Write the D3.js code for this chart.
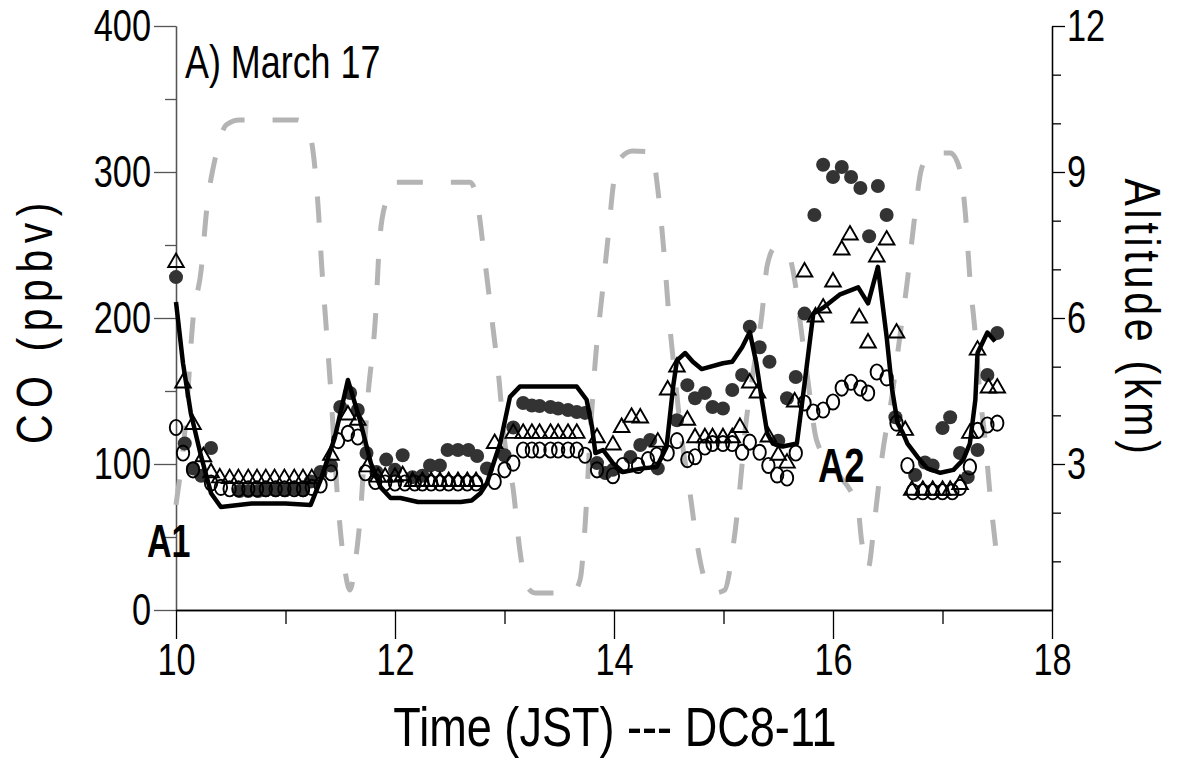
<!DOCTYPE html>
<html>
<head>
<meta charset="utf-8">
<script src="https://cdn.jsdelivr.net/npm/d3@7/dist/d3.min.js"></script>
<style>
  html, body { margin: 0; padding: 0; background: #fff; }
  svg text { font-family: "Liberation Sans", Arial, sans-serif; fill: #000; }
</style>
</head>
<body>
<svg id="chart" width="1177" height="773"></svg>
<script>
// ---- Flight DC8-11, March 17: CO mixing ratios and flight altitude ----

// time in hours JST, CO in ppbv (filled dots)
const coFilled = [
  [10.0,228],[10.08,114],[10.155,97],[10.23,92],[10.32,111],
  [10.58,81.5],[10.66,81.5],[10.75,81.5],[10.82,82],[10.91,82],[11.0,82],[11.09,83],[11.16,82],
  [11.23,88],[11.32,94.5],[11.415,99],[11.50,139],[11.59,148.6],[11.66,137],[11.74,107.5],
  [11.83,94.5],[11.92,103],[12.0,96],[12.07,106],[12.16,91],[12.25,92],[12.32,99],[12.41,99],
  [12.48,109.6],[12.575,109.6],[12.67,109.6],[12.75,105.5],[12.84,97],[13.0,106],[13.08,125],
  [13.17,141.8],[13.25,140],[13.32,139.7],[13.42,139],[13.49,138],[13.58,137],[13.66,135.6],[13.735,135],
  [13.845,100.6],[13.92,93.8],[13.99,96],[14.15,104.8],[14.24,113],[14.33,116.4],[14.40,97],
  [14.575,130],[14.67,154],[14.74,145],[14.83,148.6],[14.90,139],[14.995,138],[15.08,150.7],
  [15.17,161],[15.24,194],[15.33,180],[15.42,170],[15.50,116],[15.58,145],[15.66,159.6],
  [15.74,203],[15.83,270.5],[15.91,305],[16.0,296.6],[16.08,303.4],[16.165,296.6],[16.25,289],
  [16.33,256],[16.41,290.4],[16.49,270.5],[16.57,132],[16.75,92.5],[16.84,101],[16.91,99],
  [17.0,124.6],[17.07,132],[17.16,107.5],[17.23,91],[17.32,109.6],[17.41,161],[17.50,189.7]
];

// open triangles
const coTriangles = [
  [10.0,238],[10.064,155.5],[10.155,127],[10.25,105],[10.32,94],[10.40,90.5],
  [10.49,90],[10.57,90],[10.66,90],[10.74,90],[10.82,90],[10.90,90],[10.99,90],[11.08,90],[11.16,90],[11.24,90],
  [11.415,106],[11.57,133.6],[11.66,130],[11.75,98],[11.845,91],[11.91,91],[12.0,91],[12.07,92],
  [12.16,88],[12.25,88],[12.33,88],[12.41,88],[12.49,88],[12.575,88],[12.66,88],[12.74,88],
  [12.91,114],[13.08,121],[13.17,121],[13.25,121],[13.32,121],[13.42,121],[13.49,121],[13.58,121],[13.66,121],
  [13.845,118],[13.99,113],[14.07,125],[14.16,132],[14.24,131.5],[14.40,115],[14.49,150.7],
  [14.575,166.4],[14.67,130],[14.74,118],[14.83,118],[14.90,118],[14.995,118],[15.08,118],
  [15.15,125],[15.24,155.5],[15.31,148.6],[15.41,118.5],[15.50,106],[15.58,100.6],[15.65,142.5],
  [15.74,231.5],[15.84,200.7],[15.91,206.8],[16.0,224.7],[16.08,246.6],[16.155,256.8],[16.24,200],
  [16.32,182.9],[16.40,241.8],[16.49,253.4],[16.58,189.7],[16.66,123],
  [16.72,82],[16.82,82],[16.91,82],[17.0,82],[17.07,82],[17.16,86],[17.25,121],[17.32,178],[17.42,152],[17.50,152]
];

// open circles
const coCircles = [
  [10.0,125],[10.064,107.5],[10.155,96],[10.32,87],[10.41,84],
  [10.49,83],[10.57,83],[10.66,83],[10.74,83],[10.82,83],[10.91,83],[10.99,83],[11.08,83],[11.16,83],[11.24,84],
  [11.32,85.6],[11.415,94],[11.48,116],[11.57,121],[11.66,118.5],[11.73,94],[11.82,88],[11.91,87],
  [12.0,87],[12.09,87],[12.18,87],[12.25,87],[12.33,87],[12.41,87],[12.49,87],[12.575,87],[12.66,87],[12.74,87],
  [12.91,88],[13.0,96],[13.08,100.6],
  [13.17,109.6],[13.25,109.6],[13.32,109.6],[13.42,109.6],[13.49,109.6],[13.58,109.6],[13.66,109.6],
  [13.735,106],[13.845,96],[13.99,92],[14.08,99],[14.22,99],[14.31,103],[14.39,106],[14.49,107.5],
  [14.575,116],[14.67,103],[14.74,105],[14.83,111.6],[14.90,114],[14.995,114],[15.08,114],
  [15.17,108],[15.24,115],[15.33,108],[15.41,99],[15.49,92.5],[15.58,90.4],[15.66,107.5],
  [15.74,141.8],[15.82,135.6],[15.91,137],[16.0,142.5],[16.08,152],[16.165,156],[16.25,152],
  [16.32,148.6],[16.40,163],[16.49,159],[16.58,128],[16.68,99],
  [16.73,81],[16.82,81],[16.91,81],[17.0,81],[17.09,81],[17.16,84],[17.25,98],[17.32,123],[17.41,126.7],[17.50,128]
];

// solid curve
const coLine = [
  [10.0,211],[10.064,169],[10.135,135],[10.23,105],[10.32,80],[10.41,70.5],[10.69,73],[11.0,73],
  [11.23,72],[11.32,89],[11.45,118],[11.57,157.5],[11.68,130],[11.78,100.5],[11.87,84],[11.96,76.7],
  [12.05,76.7],[12.21,74],[12.4,74],[12.6,74],[12.7,75],[12.78,80],[12.84,87],[12.96,114],
  [13.05,146],[13.14,153],[13.66,153],[13.75,144],[13.80,125],[13.83,107.5],[13.90,109.6],
  [13.99,100.6],[14.08,94.5],[14.26,97],[14.39,98],[14.48,111.6],[14.54,153],[14.575,171],
  [14.65,176],[14.72,170],[14.80,165],[14.995,169],[15.08,170],[15.17,180],[15.24,190.4],
  [15.30,169],[15.35,144],[15.40,121],[15.45,114],[15.54,112],[15.67,114],[15.74,155],
  [15.82,203],[15.91,207],[16.06,216],[16.23,221],[16.32,210],[16.41,235],[16.49,187],
  [16.54,151],[16.59,128],[16.64,121],[16.68,114],[16.77,105],[16.86,97],[16.98,94],
  [17.10,96],[17.19,103],[17.25,114],[17.30,144],[17.32,176],[17.41,190],[17.48,184]
];

// flight altitude, km
const altitude = [
  [10.0,2.16],[10.09,3.9],[10.155,5.96],[10.23,6.99],[10.28,8.22],[10.365,9.35],[10.46,9.97],
  [10.58,10.07],[11.10,10.07],[11.2,9.92],[11.25,9.45],[11.30,8.22],[11.33,7.09],[11.37,5.86],
  [11.41,4.62],[11.47,2.47],[11.525,1.13],[11.59,0.41],[11.64,1.03],[11.68,1.85],[11.75,4.31],
  [11.82,5.96],[11.86,7.6],[11.92,8.42],[12.0,8.79],[12.685,8.79],[12.74,8.53],[12.82,7.19],
  [12.886,5.96],[12.95,4.73],[13.0,3.49],[13.08,2.47],[13.14,1.23],[13.2,0.51],[13.28,0.35],
  [13.62,0.35],[13.69,0.62],[13.735,1.7],[13.78,3.49],[13.83,5.14],[13.89,6.45],[13.945,7.64],
  [14.0,8.83],[14.07,9.31],[14.17,9.43],[14.35,9.41],[14.39,8.83],[14.46,7.25],[14.5,6.08],
  [14.56,4.73],[14.62,3.49],[14.69,2.47],[14.76,1.34],[14.83,0.62],[14.92,0.35],[15.01,0.41],
  [15.09,1.34],[15.15,2.51],[15.2,3.74],[15.26,4.73],[15.35,6.06],[15.40,7.09],[15.47,7.44],
  [15.58,7.36],[15.65,6.78],[15.70,5.92],[15.77,4.73],[15.85,3.49],[16.02,2.88],[16.23,2.05],
  [16.26,1.44],[16.32,0.86],[16.38,1.85],[16.45,3.18],[16.54,4.42],[16.61,5.61],[16.68,6.78],
  [16.74,7.97],[16.81,9.08],[16.90,9.39],[17.07,9.39],[17.16,9.04],[17.21,8.12],[17.25,6.82],
  [17.30,5.65],[17.34,4.48],[17.39,3.49],[17.43,2.47],[17.5,1.03]
];

const timeTicks = [10, 12, 14, 16, 18];
const timeMinorTicks = [11, 13, 15, 17];
const coTicks = [0, 100, 200, 300, 400];
const coMinorTicks = [50, 150, 250, 350];
const altTicks = [3, 6, 9, 12];
const altMinorTicks = [1, 2, 4, 5, 7, 8, 10, 11];

const svg = d3.select("#chart");
const plotLeft = 176, plotRight = 1052, plotTop = 26, plotBottom = 610;

const x = d3.scaleLinear().domain([10, 18]).range([plotLeft, plotRight]);
const yCO = d3.scaleLinear().domain([0, 400]).range([plotBottom, plotTop]);
const yAlt = d3.scaleLinear().domain([0, 12]).range([plotBottom, plotTop]);

// condensed lettering: glyphs squeezed horizontally
const narrow = 0.78;
const tickFont = 44;

// ---- axes ----
function styleAxis(g, color) {
  g.selectAll("path.domain").attr("stroke", color).attr("stroke-width", 1.3);
  g.selectAll(".tick line").attr("stroke", color).attr("stroke-width", 1.3);
  g.selectAll(".tick text").style("font-size", tickFont + "px").attr("fill", "#000")
    .each(function () {
      const t = d3.select(this);
      const x0 = +t.attr("x") || 0;
      t.attr("x", x0 / narrow).attr("transform", `scale(${narrow},1)`);
    });
}

// left CO axis
svg.append("g").attr("transform", `translate(${plotLeft},0)`)
  .call(d3.axisLeft(yCO).tickValues(coMinorTicks).tickSize(11).tickSizeOuter(0).tickFormat(""))
  .call(g => styleAxis(g, "#555"));
svg.append("g").attr("transform", `translate(${plotLeft},0)`)
  .call(d3.axisLeft(yCO).tickValues(coTicks).tickSize(22).tickSizeOuter(0).tickPadding(3).tickFormat(d3.format("d")))
  .call(g => styleAxis(g, "#555"));

// right altitude axis
svg.append("g").attr("transform", `translate(${plotRight},0)`)
  .call(d3.axisRight(yAlt).tickValues(altMinorTicks).tickSize(9).tickSizeOuter(0).tickFormat(""))
  .call(g => styleAxis(g, "#000"));
svg.append("g").attr("transform", `translate(${plotRight},0)`)
  .call(d3.axisRight(yAlt).tickValues(altTicks).tickSize(13).tickSizeOuter(0).tickPadding(2).tickFormat(d3.format("d")))
  .call(g => styleAxis(g, "#000"));

// bottom time axis
svg.append("g").attr("transform", `translate(0,${plotBottom})`)
  .call(d3.axisBottom(x).tickValues(timeMinorTicks).tickSize(14).tickSizeOuter(0).tickFormat(""))
  .call(g => styleAxis(g, "#000"));
svg.append("g").attr("transform", `translate(0,${plotBottom})`)
  .call(d3.axisBottom(x).tickValues(timeTicks).tickSize(29).tickSizeOuter(0).tickPadding(5).tickFormat(d3.format("d")))
  .call(g => styleAxis(g, "#000"));

// ---- altitude trace ----
const altLine = d3.line().x(d => x(d[0])).y(d => yAlt(d[1])).curve(d3.curveMonotoneX);
svg.append("path").datum(altitude)
  .attr("d", altLine)
  .attr("fill", "none")
  .attr("stroke", "#b4b4b4")
  .attr("stroke-width", 5)
  .attr("stroke-dasharray", "26,28");

// ---- CO markers ----
svg.append("g").selectAll("circle").data(coFilled).join("circle")
  .attr("cx", d => x(d[0])).attr("cy", d => yCO(d[1])).attr("r", 7)
  .attr("fill", "#333");

svg.append("g").selectAll("ellipse").data(coCircles).join("ellipse")
  .attr("cx", d => x(d[0])).attr("cy", d => yCO(d[1])).attr("rx", 6.2).attr("ry", 7.6)
  .attr("fill", "none").attr("stroke", "#000").attr("stroke-width", 1.9);

const tri = d3.symbol().type(d3.symbolTriangle).size(105);
svg.append("g").selectAll("path").data(coTriangles).join("path")
  .attr("d", tri)
  .attr("transform", d => `translate(${x(d[0])},${yCO(d[1])})`)
  .attr("fill", "none").attr("stroke", "#000").attr("stroke-width", 1.9);

// ---- CO curve ----
const coPath = d3.line().x(d => x(d[0])).y(d => yCO(d[1]));
svg.append("path").datum(coLine)
  .attr("d", coPath)
  .attr("fill", "none")
  .attr("stroke", "#000")
  .attr("stroke-width", 4.5)
  .attr("stroke-linejoin", "round");

// ---- labels ----
function label(px, py, txt, size, opts = {}) {
  const t = svg.append("text")
    .attr("transform", `translate(${px},${py}) rotate(${opts.rotate || 0}) scale(${opts.sx || narrow},1)`)
    .attr("text-anchor", opts.anchor || "start")
    .style("font-size", size + "px")
    .text(txt);
  if (opts.bold) t.style("font-weight", "bold");
  if (opts.spacing) t.style("letter-spacing", opts.spacing + "px");
  return t;
}

label(185, 78, "A) March 17", 46);
label(147, 557, "A1", 46, { bold: true, sx: 0.74 });
label(818, 482, "A2", 48, { bold: true, sx: 0.76 });

label(615, 746, "Time (JST) --- DC8-11", 55, { anchor: "middle", sx: 0.82 });
label(52, 320, "CO (ppbv)", 50, { anchor: "middle", rotate: -90, sx: 0.82, spacing: 8 });
label(1125, 318, "Altitude (km)", 50, { anchor: "middle", rotate: 90, sx: 0.82, spacing: 4.6 });
</script>
</body>
</html>
